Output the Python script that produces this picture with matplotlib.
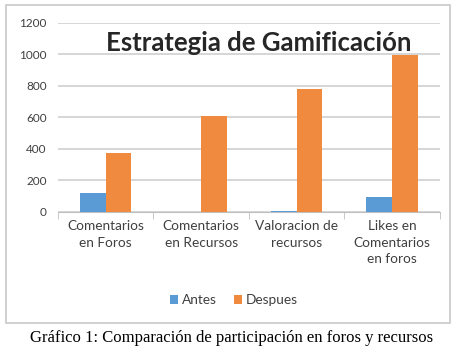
import matplotlib.pyplot as plt
from matplotlib.patches import Rectangle
import numpy as np

categories = ['Comentarios\nen Foros', 'Comentarios\nen Recursos',
              'Valoracion de\nrecursos', 'Likes en\nComentarios\nen foros']
antes = [120, 0, 5, 95]
despues = [375, 610, 780, 995]
yticks = [0, 200, 400, 600, 800, 1000, 1200]

plt.rcParams['font.family'] = ['Lato', 'DejaVu Sans']

fig = plt.figure(figsize=(4.63, 3.48), dpi=100)
ax = fig.add_axes([0.125, 0.391, 0.825, 0.543])

# chart frame
fig.patches.append(Rectangle((6 / 463, 1 - 323 / 348), 444 / 463, 318 / 348,
                             transform=fig.transFigure, fill=False,
                             edgecolor='#c8c8c8', linewidth=1.2))

x = np.arange(len(categories))
w = 0.27
ax.bar(x - w / 2, antes, w, color='#5b9bd5', label='Antes', zorder=3)
ax.bar(x + w / 2, despues, w, color='#ef8a3f', label='Despues', zorder=3)

ax.set_ylim(0, 1200)
ax.set_xlim(-0.5, 3.5)
ax.set_yticks(yticks)
ax.tick_params(axis='y', length=0, labelsize=8.5, labelcolor='#404040', pad=8)
ax.yaxis.grid(True, color='#d0d0d0', linewidth=1.2, zorder=0)

ax.set_xticks(x)
ax.set_xticklabels(categories, fontsize=9.8, color='#404040', linespacing=1.45)
ax.tick_params(axis='x', length=0, pad=6)
ax.set_xticks([-0.5, 0.5, 1.5, 2.5, 3.5], minor=True)
ax.tick_params(axis='x', which='minor', length=5, color='#c0c0c0')

for s in ['top', 'right', 'left']:
    ax.spines[s].set_visible(False)
ax.spines['bottom'].set_color('#c0c0c0')

ax.text(0.525, 0.895, 'Estrategia de Gamificación', transform=ax.transAxes,
        ha='center', va='center', fontsize=18.5, fontweight='bold', color='#262626')

fig.legend(loc='center', bbox_to_anchor=(234 / 463, 1 - 300 / 348), ncol=2,
           frameon=False, fontsize=9.8, handlelength=0.6, handleheight=0.6,
           handletextpad=0.3, columnspacing=1.2, labelcolor='#404040')

fig.text(232 / 463, 1 - 338 / 348,
         'Gráfico 1: Comparación de participación en foros y recursos',
         ha='center', va='center', fontsize=12, family='Liberation Serif')

plt.savefig('out.png', dpi=100)
